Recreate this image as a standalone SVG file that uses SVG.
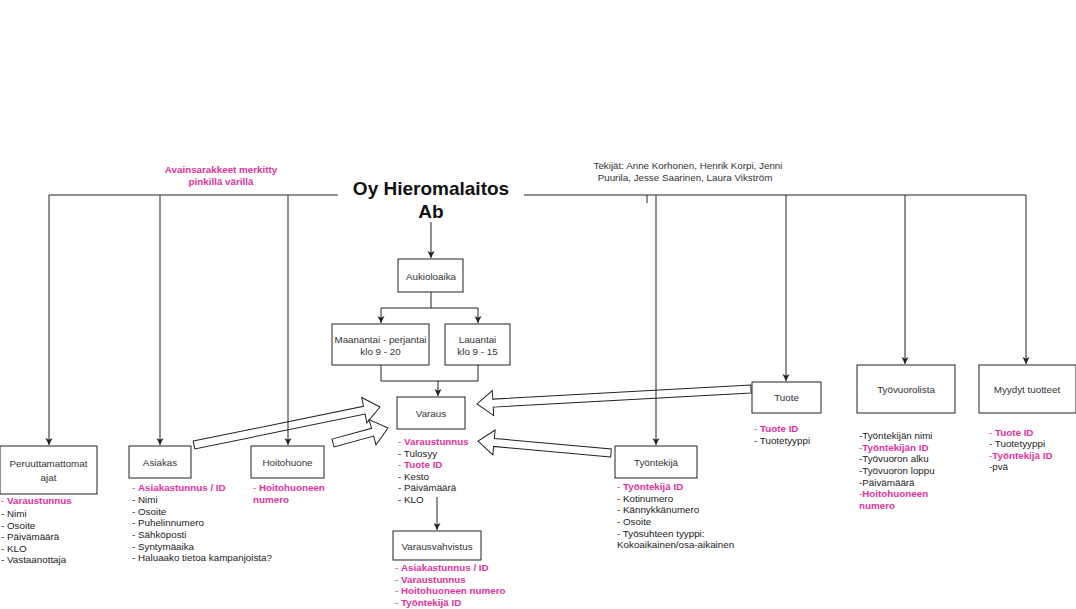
<svg xmlns="http://www.w3.org/2000/svg" width="1076" height="609" viewBox="0 0 1076 609">
<style>
text{font-family:"Liberation Sans",Arial,sans-serif;font-size:9.8px;fill:#222}
.lbl{text-anchor:middle;fill:#333}
.box{fill:#fff;stroke:#222;stroke-width:1}
.ln{fill:none;stroke:#222;stroke-width:1}
.blk{fill:#fff;stroke:#222;stroke-width:1}
.pk{fill:#e0339b}
.b{font-weight:bold;fill:#e0339b}
.title{font-size:19px;font-weight:bold;fill:#111;text-anchor:middle}
.note{fill:#333;text-anchor:middle}
</style>
<defs>
<marker id="ah" markerWidth="8" markerHeight="8" refX="7" refY="4" orient="auto" markerUnits="userSpaceOnUse">
<path d="M0,0.5 L7,4 L0,7.5 L1.8,4 z" fill="#222"/>
</marker>
</defs>
<rect width="1076" height="609" fill="#fff"/>

<g id="connectors">
<polygon class="blk" transform="translate(194,445) rotate(-11.55)" points="0,-4 173.8,-4 173.8,-13 189.8,0 173.8,13 173.8,4 0,4"/>
<polygon class="blk" transform="translate(333,443) rotate(-15.26)" points="0,-4 41,-4 41,-13 57,0 41,13 41,4 0,4"/>
<polygon class="blk" transform="translate(751,389) rotate(176.87)" points="0,-4 258.4,-4 258.4,-12.5 274.4,0 258.4,12.5 258.4,4 0,4"/>
<polygon class="blk" transform="translate(611,453) rotate(-174.84)" points="0,-4 117.5,-4 117.5,-12.5 133.5,0 117.5,12.5 117.5,4 0,4"/>
<path class="ln" d="M338,195 H49 V445" marker-end="url(#ah)"/>
<path class="ln" d="M160,195 V445" marker-end="url(#ah)"/>
<path class="ln" d="M288,195 V445" marker-end="url(#ah)"/>
<path class="ln" d="M524,195 H1026 V364" marker-end="url(#ah)"/>
<path class="ln" d="M656,195 V445" marker-end="url(#ah)"/>
<path class="ln" d="M786,195 V381" marker-end="url(#ah)"/>
<path class="ln" d="M905,195 V364" marker-end="url(#ah)"/>
<path class="ln" d="M647,195 V203"/>
<path class="ln" d="M431,222 V258" marker-end="url(#ah)"/>
<path class="ln" d="M431,292 V308 H381 V323" marker-end="url(#ah)"/>
<path class="ln" d="M431,308 H478 V323" marker-end="url(#ah)"/>
<path class="ln" d="M381,365 V381 H478 V365"/>
<path class="ln" d="M438,381 V396" marker-end="url(#ah)"/>
<path class="ln" d="M437,497 V530" marker-end="url(#ah)"/>
</g>

<g id="title">
<text class="title" x="431" y="195">Oy Hieromalaitos</text>
<text class="title" x="431" y="218">Ab</text>
</g>

<g id="note-keys">
<text class="b" x="221" y="172.5" text-anchor="middle">Avainsarakkeet merkitty</text>
<text class="b" x="221" y="185" text-anchor="middle">pinkillä värillä</text>
</g>

<g id="note-authors">
<text class="note" x="688" y="168.5">Tekijät: Anne Korhonen, Henrik Korpi, Jenni</text>
<text class="note" x="685" y="180.5"> Puurila, Jesse Saarinen, Laura Vikström</text>
</g>

<g id="aukioloaika">
<rect class="box" x="398" y="259" width="65" height="33"/>
<text class="lbl" x="431" y="279.5">Aukioloaika</text>
</g>

<g id="maanantai">
<rect class="box" x="332" y="324" width="97" height="41"/>
<text class="lbl" x="380.5" y="342.5">Maanantai - perjantai</text>
<text class="lbl" x="380.5" y="354.5">klo 9 - 20</text>
</g>

<g id="lauantai">
<rect class="box" x="445" y="324" width="65" height="41"/>
<text class="lbl" x="477.5" y="342.5">Lauantai</text>
<text class="lbl" x="477.5" y="354.5">klo 9 - 15</text>
</g>

<g id="varaus">
<rect class="box" x="397" y="397" width="68" height="32"/>
<text class="lbl" x="431" y="416.5">Varaus</text>
<text x="398" y="444.5"><tspan class="pk">- </tspan><tspan class="b">Varaustunnus</tspan></text>
<text x="398" y="456.5">- Tulosyy</text>
<text x="398" y="467.5"><tspan class="pk">- </tspan><tspan class="b">Tuote ID</tspan></text>
<text x="398" y="479.5">- Kesto</text>
<text x="398" y="490.5">- Päivämäärä</text>
<text x="398" y="502.5">- KLO</text>
</g>

<g id="varausvahvistus">
<rect class="box" x="393" y="531" width="88" height="29"/>
<text class="lbl" x="437" y="549.5">Varausvahvistus</text>
<text x="395" y="570.5"><tspan class="pk">- </tspan><tspan class="b">Asiakastunnus / ID</tspan></text>
<text x="395" y="582.5"><tspan class="pk">- </tspan><tspan class="b">Varaustunnus</tspan></text>
<text x="395" y="593.5"><tspan class="pk">- </tspan><tspan class="b">Hoitohuoneen numero</tspan></text>
<text x="395" y="605.5"><tspan class="pk">- </tspan><tspan class="b">Työntekijä ID</tspan></text>
</g>

<g id="peruuttamattomat">
<rect class="box" x="0" y="446" width="97" height="48"/>
<text class="lbl" x="48.5" y="466.5">Peruuttamattomat</text>
<text class="lbl" x="48.5" y="480.5">ajat</text>
<text x="1" y="503.5"><tspan class="pk">- </tspan><tspan class="b">Varaustunnus</tspan></text>
<text x="1" y="516.5">- Nimi</text>
<text x="1" y="528.5">- Osoite</text>
<text x="1" y="539.5">- Päivämäärä</text>
<text x="1" y="551.5">- KLO</text>
<text x="1" y="562.5">- Vastaanottaja</text>
</g>

<g id="asiakas">
<rect class="box" x="129" y="446" width="62" height="32"/>
<text class="lbl" x="160" y="465.5">Asiakas</text>
<text x="132" y="490.5"><tspan class="pk">- </tspan><tspan class="b">Asiakastunnus / ID</tspan></text>
<text x="132" y="502.5">- Nimi</text>
<text x="132" y="514.5">- Osoite</text>
<text x="132" y="525.5">- Puhelinnumero</text>
<text x="132" y="537.5">- Sähköposti</text>
<text x="132" y="549.5">- Syntymäaika</text>
<text x="132" y="560.5">- Haluaako tietoa kampanjoista?</text>
</g>

<g id="hoitohuone">
<rect class="box" x="251" y="446" width="73" height="32"/>
<text class="lbl" x="287.5" y="465.5">Hoitohuone</text>
<text x="253" y="490.5"><tspan class="pk">- </tspan><tspan class="b">Hoitohuoneen</tspan></text>
<text x="253" y="502.5" class="b">numero</text>
</g>

<g id="tyontekija">
<rect class="box" x="615" y="446" width="82" height="32"/>
<text class="lbl" x="656" y="465.5">Työntekijä</text>
<text x="617" y="489.5"><tspan class="pk">- </tspan><tspan class="b">Työntekijä ID</tspan></text>
<text x="617" y="501.5">- Kotinumero</text>
<text x="617" y="512.5">- Kännykkänumero</text>
<text x="617" y="524.5">- Osoite</text>
<text x="617" y="536.5">- Työsuhteen tyyppi:</text>
<text x="617" y="547.5">Kokoaikainen/osa-aikainen</text>
</g>

<g id="tuote">
<rect class="box" x="752" y="382" width="69" height="31"/>
<text class="lbl" x="786.5" y="400.5">Tuote</text>
<text x="754" y="431.5"><tspan class="pk">- </tspan><tspan class="b">Tuote ID</tspan></text>
<text x="754" y="443.5">- Tuotetyyppi</text>
</g>

<g id="tyovuorolista">
<rect class="box" x="857" y="365" width="98" height="48"/>
<text class="lbl" x="906" y="392.5">Työvuorolista</text>
<text x="859" y="438.5">-Työntekijän nimi</text>
<text x="859" y="450.5"><tspan class="pk">-</tspan><tspan class="b">Työntekijän ID</tspan></text>
<text x="859" y="461.5">-Työvuoron alku</text>
<text x="859" y="473.5">-Työvuoron loppu</text>
<text x="859" y="485.5">-Päivämäärä</text>
<text x="859" y="496.5"><tspan class="pk">-</tspan><tspan class="b">Hoitohuoneen</tspan></text>
<text x="859" y="508.5" class="b">numero</text>
</g>

<g id="myydyt">
<rect class="box" x="979" y="365" width="97" height="48"/>
<text class="lbl" x="1027" y="392.5">Myydyt tuotteet</text>
<text x="989" y="435.5"><tspan class="pk">- </tspan><tspan class="b">Tuote ID</tspan></text>
<text x="989" y="446.5">- Tuotetyyppi</text>
<text x="989" y="458.5"><tspan class="pk">-</tspan><tspan class="b">Työntekijä ID</tspan></text>
<text x="989" y="469.5">-pvä</text>
</g>
</svg>
